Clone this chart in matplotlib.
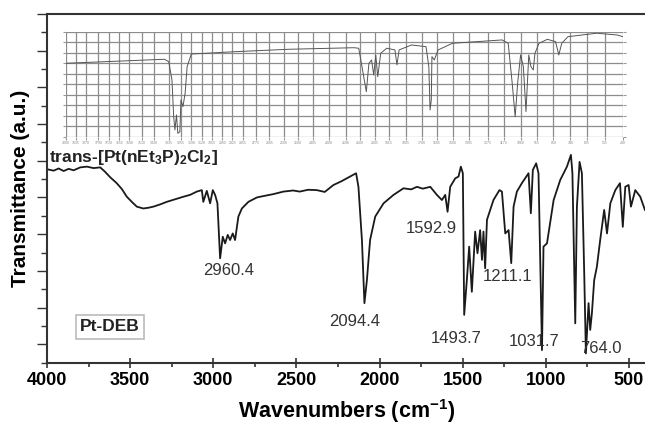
import matplotlib.pyplot as plt
from matplotlib.ticker import MultipleLocator

plt.rcParams['font.family'] = ['Liberation Sans', 'DejaVu Sans']
plt.rcParams['mathtext.default'] = 'regular'

# Pt-DEB spectrum (main trace), wavenumber in cm-1, transmittance in a.u.
wavenumber = [4000, 3960, 3930, 3900, 3870, 3840, 3800, 3760, 3720, 3680, 3651, 3620, 3581, 3550,
              3520, 3490, 3460, 3421, 3390, 3360, 3320, 3280, 3230, 3180, 3140, 3099, 3069, 3060,
              3039, 3019, 3003, 2989, 2975, 2959, 2943, 2929, 2913, 2899, 2883, 2869, 2849, 2828,
              2789, 2738, 2718, 2640, 2578, 2520, 2480, 2430, 2377, 2330, 2277, 2230, 2177, 2141,
              2127, 2106, 2091, 2076, 2057, 2026, 1976, 1916, 1856, 1810, 1775, 1740, 1695, 1655,
              1625, 1605, 1591, 1575, 1545, 1525, 1511, 1499, 1491, 1475, 1461, 1445, 1425, 1411,
              1395, 1384, 1375, 1365, 1354, 1315, 1279, 1264, 1244, 1224, 1208, 1194, 1174, 1144,
              1104, 1090, 1078, 1058, 1044, 1023, 1014, 993, 953, 913, 873, 849, 840, 823, 813,
              797, 783, 769, 759, 743, 733, 723, 709, 693, 673, 649, 632, 612, 582, 554, 537, 522,
              502, 488, 462, 432, 404]
transmittance = [47.7, 47.3, 47.9, 47.2, 47.8, 47.4, 48.2, 48.4, 48.0, 48.2, 47.0, 45.5, 43.9, 42.3,
                 40.2, 38.8, 37.5, 37.0, 37.2, 37.5, 38.1, 38.8, 39.5, 40.2, 40.7, 41.6, 42.0, 38.8,
                 41.8, 38.4, 42.0, 40.7, 38.4, 23.4, 29.3, 27.5, 29.8, 28.4, 30.2, 28.4, 34.8, 37.0,
                 38.8, 40.0, 40.2, 40.9, 41.6, 41.9, 41.6, 42.1, 42.0, 41.5, 43.4, 44.4, 45.7, 46.6,
                 42.9, 28.4, 11.2, 17.5, 28.4, 34.8, 38.4, 40.7, 42.5, 42.2, 42.9, 42.4, 42.9, 40.7,
                 39.3, 40.7, 36.1, 42.9, 45.2, 45.7, 48.4, 46.6, 8.0, 17.5, 26.6, 14.3, 30.7, 24.8,
                 31.1, 23.0, 30.7, 20.7, 33.9, 39.3, 42.0, 41.6, 30.2, 31.1, 22.1, 37.5, 41.6, 43.9,
                 46.6, 35.7, 47.5, 49.3, 46.6, -1.6, 26.6, 27.5, 39.3, 44.8, 48.4, 51.6, 46.6, 5.7,
                 37.5, 49.7, 46.6, 19.3, -2.5, 11.2, 3.9, 8.4, 17.5, 21.1, 28.4, 36.6, 30.2, 38.4,
                 42.0, 43.9, 32.0, 42.9, 43.4, 37.5, 42.0, 40.2, 36.6]

# trans-[Pt(nEt3P)2Cl2] spectrum, scanned print-out shown as inset
inset_wavenumber = [4000, 3363, 3336, 3315, 3304, 3296, 3286, 3277, 3264, 3257, 3244, 3230, 3217,
                    3190, 3096, 2910, 2565, 2139, 2108, 2087, 2059, 2042, 2025, 2011, 1998, 1985,
                    1966, 1927, 1874, 1861, 1847, 1767, 1673, 1655, 1647, 1639, 1635, 1620, 1595,
                    1502, 1182, 1142, 1116, 1097, 1081, 1062, 1044, 1027, 1009, 995, 980, 969, 943,
                    889, 836, 815, 796, 756, 570, 437, 400]
inset_transmittance = [70.2, 74.0, 71.7, 54.3, 19.3, 6.7, 21.0, 3.5, 5.0, 35.2, 28.9, 41.6, 67.0,
                       79.0, 79.7, 81.2, 83.5, 85.0, 84.5, 67.0, 43.1, 70.2, 73.3, 59.0, 78.1, 57.4,
                       79.7, 84.5, 82.9, 68.6, 82.9, 87.6, 86.0, 67.0, 25.7, 35.2, 76.5, 73.3, 82.9,
                       89.2, 92.4, 89.2, 51.1, 19.3, 51.1, 78.1, 67.0, 24.1, 78.1, 67.0, 63.8, 79.7,
                       89.2, 93.0, 90.8, 78.1, 89.2, 95.5, 98.8, 97.1, 95.5]
inset_grid = [4000, 3935, 3870, 3790, 3720, 3655, 3590, 3510, 3430, 3335, 3255, 3190, 3120, 3055,
              2990, 2925, 2855, 2775, 2685, 2590, 2500, 2405, 2300, 2190, 2100, 2005, 1915, 1805,
              1700, 1605, 1500, 1395, 1275, 1170, 1060, 955, 850, 740, 635, 515, 400]

peak_labels = ['2960.4', '2094.4', '1592.9', '1493.7', '1211.1', '1031.7', '764.0']
label_x = [2909, 2147, 1690, 1541, 1229, 1070, 667]
label_y = [20.2, 6.1, 31.6, 1.6, 18.4, 0.7, -1.1]

fig = plt.figure(figsize=(6.45, 4.29), dpi=100)
ax = fig.add_axes([0.0729, 0.1548, 0.928, 0.8126])
ax.plot(wavenumber, transmittance, color='#1a1a1a', lw=1.3)
ax.set_xlim(4000, 400)
ax.set_ylim(-5, 90)
ax.xaxis.set_major_locator(MultipleLocator(500))
ax.xaxis.set_minor_locator(MultipleLocator(250))
ax.yaxis.set_major_locator(MultipleLocator(10))
ax.yaxis.set_minor_locator(MultipleLocator(5))
ax.tick_params(axis='x', which='major', direction='inout', length=7, width=1.2, labelsize=13,
               pad=3, color='#333333')
ax.tick_params(axis='x', which='minor', direction='out', length=3, width=1.2, color='#333333')
ax.tick_params(axis='y', which='major', direction='out', length=7, width=1.0, labelleft=False,
               color='#333333')
ax.tick_params(axis='y', which='minor', direction='out', length=4.5, width=1.0, color='#333333')
for lbl in ax.get_xticklabels():
    lbl.set_fontweight('bold')
ax.spines['right'].set_visible(False)
for side in ['left', 'bottom', 'top']:
    ax.spines[side].set_color('#333333')
    ax.spines[side].set_linewidth(1.5)
ax.set_xlabel('Wavenumbers (cm$^{-1}$)', fontsize=15.5, fontweight='bold', labelpad=6)
ax.set_ylabel('Transmittance (a.u.)', fontsize=15, fontweight='bold', labelpad=4)

for txt, x, y in zip(peak_labels, label_x, label_y):
    ax.text(x, y, txt, ha='center', va='center', fontsize=12, color='#333333')

ax.text(3990, 51.0, 'trans-[Pt(nEt$_3$P)$_2$Cl$_2$]', ha='left', va='center', fontsize=12.5,
        fontweight='bold', color='#222222')
ax.text(3621, 4.7, 'Pt-DEB', ha='center', va='center', fontsize=12.5, fontweight='bold',
        color='#222222',
        bbox=dict(boxstyle='square,pad=0.25', fc='white', ec='#bbbbbb', lw=1.2))

# inset: scanned spectrum with chart-paper grid
axin = fig.add_axes([0.1023, 0.6807, 0.8636, 0.2448])
axin.plot(inset_wavenumber, inset_transmittance, color='#555555', lw=0.7)
axin.set_xlim(4000, 400)
axin.set_ylim(0, 100)
axin.set_xticks(inset_grid)
axin.set_xticklabels([f'{int(v)}' for v in inset_grid])
axin.set_yticks(range(0, 101, 10))
axin.set_yticklabels([])
axin.grid(True, color='#8c8c8c', lw=0.9)
axin.tick_params(length=2, color='#999999', labelsize=2.5, labelcolor='#888888', pad=1,
                 right=True)
for s in axin.spines.values():
    s.set_visible(False)
axin.patch.set_alpha(0)

plt.savefig('out.png', dpi=100)
plt.close()
